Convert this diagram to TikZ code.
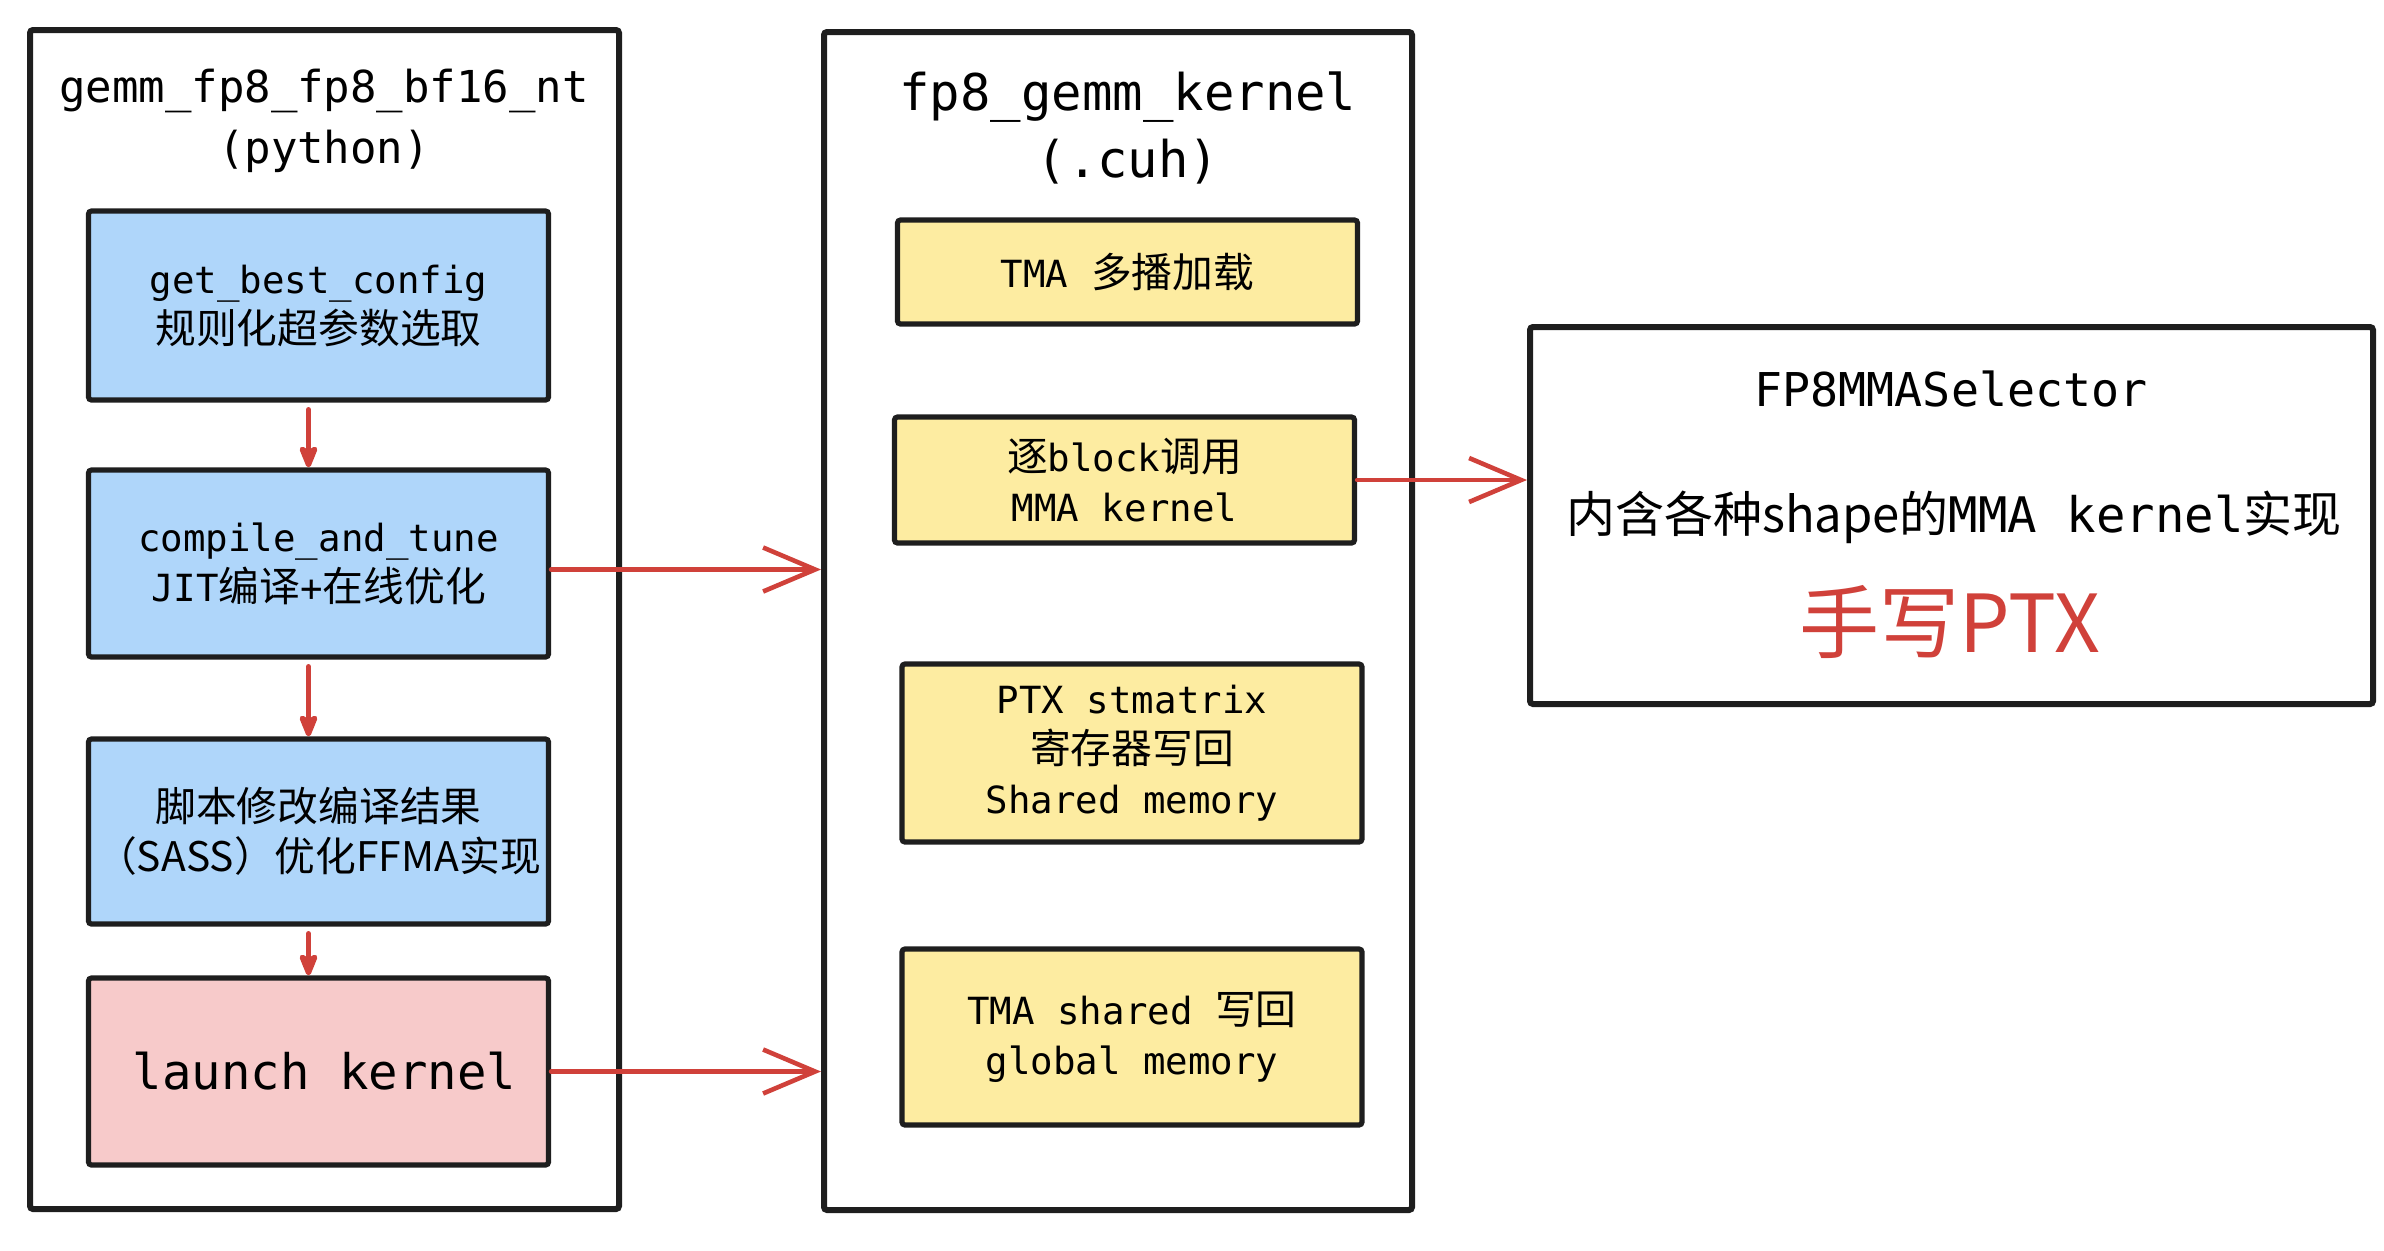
\documentclass[tikz,border=0pt]{standalone}
\usepackage{fontspec}
\setmainfont{DejaVu Sans Mono}
\newfontfamily\cjk{Noto Sans CJK SC}[Scale=1.09]
\newfontfamily\cjkn{Noto Sans CJK SC}
\usetikzlibrary{arrows.meta}
\definecolor{ink}{RGB}{30,30,30}
\definecolor{redline}{RGB}{208,65,58}
\definecolor{bluefill}{RGB}{175,214,250}
\definecolor{pinkfill}{RGB}{247,202,202}
\definecolor{yellowfill}{RGB}{253,236,161}

\begin{document}
\begin{tikzpicture}[x=0.5pt, y=-0.5pt, %
      frame/.style={draw=ink, line width=3pt, rounded corners=1.5pt, inner sep=0pt}, %
      stepbox/.style={draw=ink, line width=2.6pt, rounded corners=1.5pt, align=center, inner sep=0pt, minimum width=230pt, font=\fontsize{18.7}{25}\selectfont}, %
      bl/.style={stepbox, fill=bluefill}, %
      pk/.style={stepbox, fill=pinkfill, font=\fontsize{24.5}{30}\selectfont}, %
      yl/.style={stepbox, fill=yellowfill}, %
      flow/.style={draw=redline, line width=2.3pt, line cap=round, line join=round}, %
      bigflow/.style={flow, -{Straight Barb[length=26pt, width=22pt]}}, %
      downflow/.style={flow, line width=2.6pt, -{Stealth[length=14pt, width=11pt, inset=3pt, round]}, shorten <=3.5pt}, %
      ]

    \useasboundingbox (0,0) rectangle (2384,1250);

    \foreach \a/\x/\y/\w/\h in { %
      gemm/324.5/619.5/294.5pt/589.5pt,%
      kern/1118/621/294pt/589pt,%
      sel/1951.5/515.5/421.5pt/188.5pt%
    }{ %
      \node[frame, minimum width=\w, minimum height=\h] (\a) at (\x,\y) {};
      }

    \node[align=center, font=\fontsize{22}{30.5}\selectfont] (gemmtitle) at (324,121) {gemm\_fp8\_fp8\_bf16\_nt\\(python)};
    \node[align=center, font=\fontsize{25.3}{33.5}\selectfont] (kerntitle) at (1128,128) {fp8\_gemm\_kernel\\(.cuh)};

    \foreach \a/\x/\y/\h/\sty/\txt in { %
      cfg/   318.5/305.5/94.5pt/bl/{get\_best\_config\\{\cjk 规则化超参数选取}},%
      tune/  318.5/563.5/93.5pt/bl/{compile\_and\_tune\\JIT{\cjk 编译}+{\cjk 在线优化}},%
      sass/  318.5/831.5/92.5pt/bl/{{\cjk 脚本修改编译结果}\\{\cjk （SASS）优化FFMA实现}},%
      launch/318.5/1071.5/93.5pt/pk/{\hspace*{6pt}launch kernel},%
      tma/   1127.5/272/52pt/yl/{TMA {\cjk 多播加载}},%
      mma/   1124.5/480/63pt/yl/{{\cjk 逐}block{\cjk 调用}\\MMA kernel},%
      stm/   1132/753/89pt/yl/{PTX stmatrix\\{\cjk 寄存器写回}\\Shared memory},%
      tmaw/  1132/1037/88pt/yl/{TMA shared {\cjk 写回}\\global memory}%
    }{ %
      \node[\sty, minimum height=\h] (\a) at (\x,\y) {\txt};
      }

    \node[font=\fontsize{23.3}{28}\selectfont] (selname) at (1951,389) {FP8MMASelector};
    \node[font=\fontsize{24.5}{28}\selectfont] (selimpl) at (1954,517) {{\cjkn 内含各种shape的}MMA kernel{\cjkn 实现}};
    \node[font=\cjkn\fontsize{40}{44}\selectfont, text=redline] (selptx) at (1950,622) {手写PTX};

    \foreach \from/\to in { %
      cfg/tune, tune/sass, sass/launch%
    }{ \draw[downflow] ([xshift=-5pt]\from.south) -- ([xshift=-5pt]\to.north);
      }

    \foreach \from/\to/\dy in { %
      tune/kern/3pt, launch/kern/0pt, mma/sel/0pt%
    }{ \draw[bigflow] ([yshift=-\dy]\from.east) -- ([yshift=-\dy]\from.east -| \to.west);
      }
    \end{tikzpicture}
\end{document}
